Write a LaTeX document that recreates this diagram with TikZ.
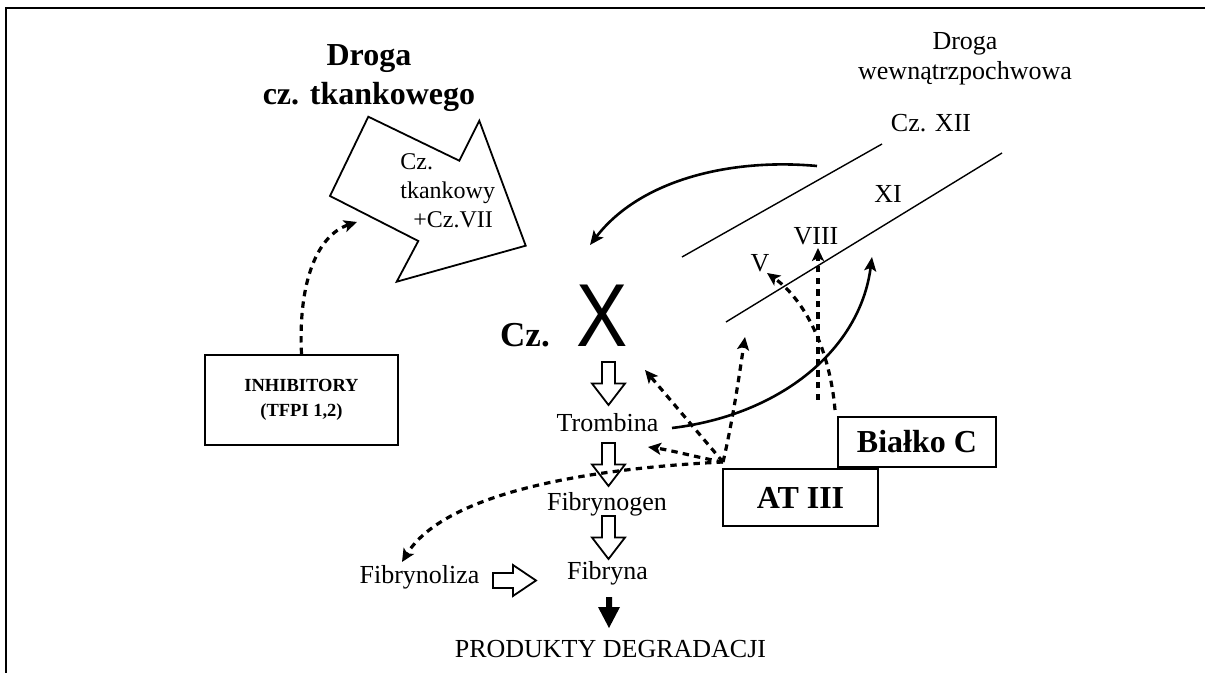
\documentclass[tikz,border=0pt]{standalone}
\usepackage{fontspec}
\setmainfont{Liberation Serif}
\newfontfamily\xsans{Liberation Sans}
\usetikzlibrary{arrows.meta}
\begin{document}
\begin{tikzpicture}[x=0.5pt,y=-0.5pt,
  txt/.style={inner sep=0pt, anchor=base, font=\fontsize{13}{15}\selectfont},
  smalltxt/.style={inner sep=0pt, anchor=base west, font=\fontsize{12}{14}\selectfont},
  titletxt/.style={inner sep=0pt, anchor=base, font=\fontsize{16}{19}\selectfont\bfseries},
  boxnode/.style={draw, line width=0.9pt, inner sep=0pt, font=\bfseries},
  thinline/.style={line width=0.7pt},
  solidc/.style={line width=1.3pt, -{Stealth[length=7pt,width=6pt,inset=1.5pt]}},
  dotc/.style={line width=1.6pt, dash pattern=on 3.2pt off 2.6pt, -{Stealth[length=6.5pt,width=6pt,inset=1.5pt]}},
  hdown/.pic={\draw[line width=0.9pt, fill=white, line join=miter] (-6.5,-21.5) -- (6.5,-21.5) -- (6.5,0) -- (16.5,0) -- (0,21.5) -- (-16.5,0) -- (-6.5,0) -- cycle;},
]
\useasboundingbox (0,0) rectangle (1205,673);
% frame
\draw[line width=1pt] (6,673) -- (6,8) -- (1205,8);

% title left
\node[titletxt] (tA) at (369,66) {Droga};
\node[titletxt] (tB) at (369,105) {cz. tkankowego};

% big hollow arrow
\draw[line width=0.9pt, line join=miter] (368.3,116.7) -- (459.3,160.7) -- (479.3,120.7) -- (525.7,245.7) -- (396.7,281.7) -- (418.3,241) -- (330,196) -- cycle;
\node[smalltxt] (ct1) at (400,170) {Cz.};
\node[smalltxt] (ct2) at (400,199) {tkankowy};
\node[smalltxt] (ct3) at (413,228) {+Cz.VII};
\coordinate (bigArrIn) at (357,222);

% inhibitory box
\node[boxnode, minimum width=96.5pt, minimum height=45pt, align=center, font=\fontsize{9.25}{12.5}\selectfont\bfseries] (inh) at (301.5,400) {INHIBITORY\\(TFPI 1,2)};
\draw[dotc] (inh.north) .. controls (298,280) and (318,235) .. (bigArrIn);

% right title
\node[txt] (rA) at (965,50) {Droga};
\node[txt] (rB) at (965,80) {wewnątrzpochwowa};
\node[txt] (xii) at (931,132) {Cz. XII};
\draw[thinline] (682,257) -- (882,144);
\draw[thinline] (726,322) -- (1002,153);
\node[txt] (xi) at (888,203) {XI};
\node[txt] (viii) at (816,245) {VIII};
\node[txt] (v) at (760,272) {V};

% Cz. X
\node[inner sep=0pt, anchor=base, font=\fontsize{17.5}{20}\selectfont\bfseries] (cz) at (525,347) {Cz.};
\node[inner sep=0pt, anchor=base, font=\fontsize{44.7}{50}\xsans, xscale=0.86] (X) at (602.5,347) {X};

% cascade
\pic (a1) at (608.5,383.5) {hdown};
\node[txt] (tromb) at (607.5,432) {Trombina};
\pic (a2) at (608.5,464.5) {hdown};
\node[txt] (fgen) at (607,510) {Fibrynogen};
\pic (a3) at (608.5,537.5) {hdown};
\node[txt] (fbr) at (607.5,580) {Fibryna};
\node[txt] (flz) at (419.5,583) {Fibrynoliza};
\draw[line width=0.9pt, fill=white, line join=miter] (493,573) -- (513,573) -- (513,565) -- (536,580.5) -- (513,596) -- (513,588) -- (493,588) -- cycle;
\fill (606,597) -- (612,597) -- (612,607) -- (620,607) -- (609,628) -- (598,607) -- (606,607) -- cycle;
\node[txt] (prod) at (610.5,657) {PRODUKTY DEGRADACJI};

% boxes
\node[boxnode, minimum width=79pt, minimum height=25pt, font=\fontsize{16}{19}\selectfont\bfseries] (bc) at (917,442) {Białko C};
\node[boxnode, fill=white, minimum width=77.5pt, minimum height=28.5pt, font=\fontsize{16}{19}\selectfont\bfseries] (at) at (800.5,497.5) {AT III};

% solid curves
\coordinate (xiiS) at (817,166);
\coordinate (xE) at (590,245);
\draw[solidc] (xiiS) .. controls (730,158) and (640,180) .. (xE);
\coordinate (trR) at (672,428);
\coordinate (xiE) at (872,257);
\draw[solidc] (trR) .. controls (780,415) and (860,350) .. (xiE);

% AT III dotted
\coordinate (hub) at (723,462);
\coordinate (hX) at (645,370);
\coordinate (hT) at (648,447);
\coordinate (hL) at (745,337);
\coordinate (hF) at (402,562);
\draw[dotc] (hub) -- (hX);
\draw[dotc] (hub) .. controls (700,458) and (670,450) .. (hT);
\draw[dotc] (hub) .. controls (733,420) and (740,370) .. (hL);
\draw[dotc] (hub) .. controls (560,470) and (440,500) .. (hF);

% Bialko C dotted
\coordinate (bV) at (835,410);
\coordinate (bVIII) at (818,400);
\coordinate (vE) at (767,273);
\coordinate (viiiE) at (818,248);
\draw[dotc] (bVIII) -- (viiiE);
\draw[dotc] (bV) .. controls (830,350) and (805,300) .. (vE);
\end{tikzpicture}
\end{document}
